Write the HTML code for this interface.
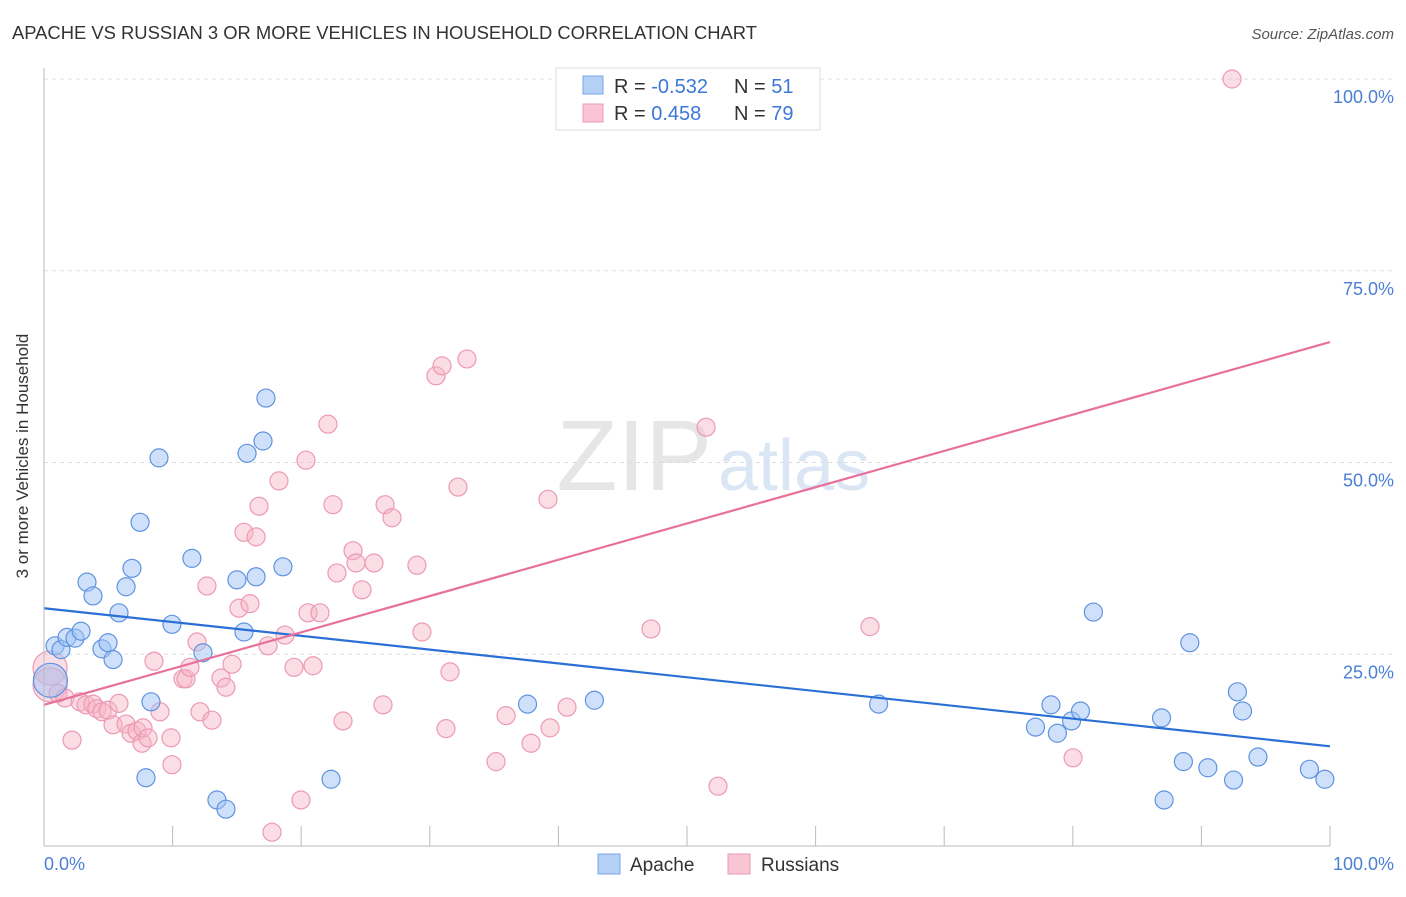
<!DOCTYPE html>
<html><head><meta charset="utf-8"><style>
body{margin:0;background:#fff;font-family:"Liberation Sans",sans-serif;}
svg text{font-family:"Liberation Sans",sans-serif;}
</style></head><body>
<svg id="c" width="1406" height="892" viewBox="0 0 1406 892" xmlns="http://www.w3.org/2000/svg">
<text x="12" y="39" font-size="18.4" fill="#333">APACHE VS RUSSIAN 3 OR MORE VEHICLES IN HOUSEHOLD CORRELATION CHART</text>
<text x="1394" y="39" font-size="15" fill="#555" text-anchor="end" font-style="italic">Source: ZipAtlas.com</text>
<text x="28" y="456" font-size="17" fill="#333" text-anchor="middle" transform="rotate(-90 28 456)">3 or more Vehicles in Household</text>
<g><text x="712" y="490" font-size="100" fill="#e6e6e6" text-anchor="end" font-family="Liberation Serif,serif">ZIP</text><text x="718" y="490" font-size="72" fill="#dbe6f5">atlas</text></g>
<g id="grid"></g><g id="ticks"></g><g id="marks"></g><g id="lines"></g>
<line x1="44" y1="68" x2="44" y2="846" stroke="#bbb"/>
<line x1="44" y1="846" x2="1330" y2="846" stroke="#bbb"/>
<text x="44" y="870" font-size="18" fill="#4a7fd6">0.0%</text>
<text x="1394" y="870" font-size="18" fill="#4a7fd6" text-anchor="end">100.0%</text>
<g>
<rect x="556" y="68" width="264" height="62" fill="#fff" stroke="#ddd"/>
<rect x="583" y="76" width="20" height="18" fill="#b5d0f5" stroke="#7aa6e6"/>
<rect x="583" y="104" width="20" height="18" fill="#f9c5d4" stroke="#ec9ab3"/>
<text x="614" y="93" font-size="20" fill="#333">R = <tspan fill="#3b78d8">-0.532</tspan></text>
<text x="734" y="93" font-size="20" fill="#333">N = <tspan fill="#3b78d8"> 51</tspan></text>
<text x="614" y="120" font-size="20" fill="#333">R = <tspan fill="#3b78d8"> 0.458</tspan></text>
<text x="734" y="120" font-size="20" fill="#333">N = <tspan fill="#3b78d8">79</tspan></text>
</g>
<g>
<rect x="598" y="854" width="22" height="20" fill="#b5d0f5" stroke="#7aa6e6"/>
<text x="630" y="871" font-size="19" fill="#333">Apache</text>
<rect x="728" y="854" width="22" height="20" fill="#f9c5d4" stroke="#ec9ab3"/>
<text x="761" y="871" font-size="19" fill="#333">Russians</text>
</g>
</svg>
<script>
const yTicks=[25,50,75,100];
const yTickLabels=["25.0%","50.0%","75.0%","100.0%"];
const xTicks=[10,20,30,40,50,60,70,80,90,100];
const apacheX=[0.86,1.32,1.79,2.41,2.88,3.34,3.81,4.51,4.98,5.37,5.83,6.38,6.84,7.47,7.93,8.32,8.94,9.95,11.5,12.36,13.45,14.15,15.0,15.55,15.79,16.49,17.03,17.26,18.58,22.32,37.6,42.8,64.9,77.1,78.3,78.8,79.9,80.6,81.6,86.9,87.1,88.6,89.1,90.5,92.5,92.8,93.2,94.4,98.4,99.6,0.5];
const apacheY=[26.1,25.6,27.2,27.1,28.0,34.4,32.6,25.7,26.5,24.3,30.4,33.8,36.2,42.2,8.9,18.8,50.6,28.9,37.5,25.2,6.0,4.8,34.7,27.9,51.2,35.1,52.8,58.4,36.4,8.7,18.5,19.0,18.5,15.5,18.4,14.7,16.3,17.6,30.5,16.7,6.0,11.0,26.5,10.2,8.6,20.1,17.6,11.6,10.0,8.7,21.6];
const rusX=[0.47,0.47,1.09,1.63,2.18,2.8,3.27,3.81,4.12,4.51,4.98,5.37,5.83,6.38,6.77,7.23,7.62,7.7,8.09,8.55,9.02,9.88,9.95,10.81,11.04,11.35,11.9,12.13,12.67,13.06,13.76,14.15,14.62,15.16,15.55,16.02,16.49,16.72,17.42,17.73,18.27,18.74,19.44,19.98,20.37,20.53,20.92,21.46,22.08,22.47,22.78,23.25,24.03,24.26,24.73,25.66,26.36,26.52,27.06,29.0,29.39,30.48,30.95,31.26,31.57,32.19,32.89,35.15,35.93,37.87,39.19,39.35,40.67,47.2,51.48,52.41,64.23,80.02,92.38];
const rusY=[23.2,21.0,19.9,19.3,13.8,18.8,18.4,18.5,17.9,17.5,17.7,15.8,18.6,15.9,14.7,15.0,13.4,15.4,14.1,24.1,17.5,14.1,10.6,21.8,21.8,23.3,26.6,17.5,33.9,16.4,21.9,20.7,23.7,31.0,40.9,31.6,40.3,44.3,26.1,1.8,47.6,27.5,23.3,6.0,50.3,30.4,23.5,30.4,55.0,44.5,35.6,16.3,38.5,36.9,33.4,36.9,18.4,44.5,42.8,36.6,27.9,61.3,62.6,15.3,22.7,46.8,63.5,11.0,17.0,13.4,45.2,15.4,18.1,28.3,54.6,7.8,28.6,11.5,100];
const apacheBig=[50];
const rusBig=[0,1];
const apacheTrend=[31.0,13.0];
const rusTrend=[18.4,65.7];
const X=v=>44+v/100*1286, Y=v=>846-v/100*767;
const NS="http://www.w3.org/2000/svg";
function mk(t,a,p){const e=document.createElementNS(NS,t);for(const k in a)e.setAttribute(k,a[k]);document.getElementById(p).appendChild(e);return e;}
yTicks.forEach((t,i)=>{
 const l=mk('line',{x1:44,x2:1394,y1:Y(t),y2:Y(t),stroke:'#ddd','stroke-dasharray':'4 4'},'grid');
 
 
 const tx=mk('text',{x:1394,y:Y(t)+24,'font-size':18,fill:'#4a7fd6','text-anchor':'end'},'grid');
 tx.textContent=yTickLabels[i];
 
 
});
xTicks.forEach(t=>{
 const l=mk('line',{x1:X(t),x2:X(t),y1:826,y2:846,stroke:'#bbb'},'ticks');
 
 
});
function pts(xs,ys,big,fill,stroke,name){
 xs.forEach((x,i)=>{
  const b=big.includes(i);
  const c=mk('circle',{cx:X(x),cy:Y(ys[i]),r:b?17:9,fill:fill,stroke:stroke,'stroke-width':1.2},'marks');
  
  
 });
}
pts(rusX,rusY,rusBig,'rgba(247,180,200,0.45)','#ec9ab3','russian-point');
pts(apacheX,apacheY,apacheBig,'rgba(160,195,245,0.5)','#5f93e0','apache-point');
const l1=mk('line',{x1:X(0),y1:Y(apacheTrend[0]),x2:X(100),y2:Y(apacheTrend[1]),stroke:'#2a6fd6','stroke-width':2.2},'lines');


const l2=mk('line',{x1:X(0),y1:Y(rusTrend[0]),x2:X(100),y2:Y(rusTrend[1]),stroke:'#e8719a','stroke-width':2.2},'lines');


</script>
</body></html>
